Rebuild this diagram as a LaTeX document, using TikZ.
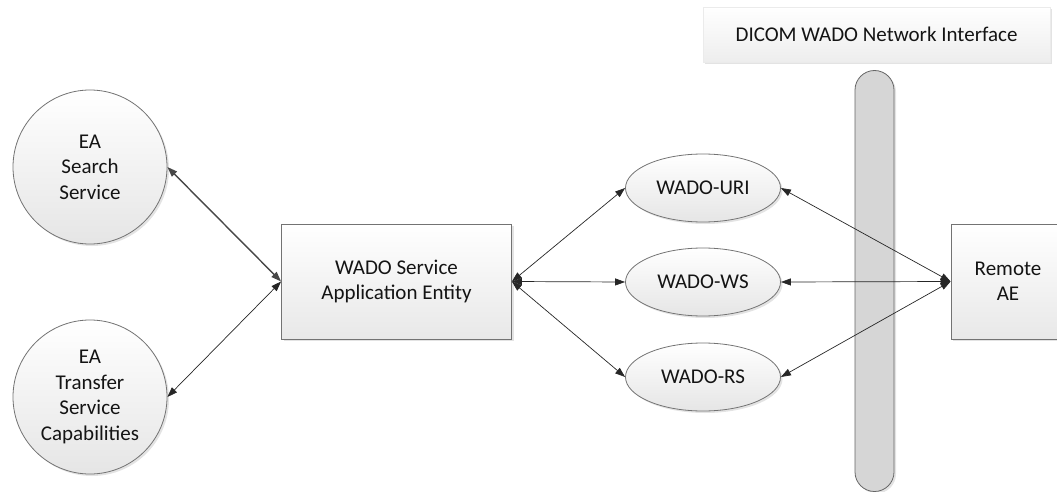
\documentclass[tikz,border=0pt]{standalone}
\usepackage{fontspec}
\setmainfont{Carlito}
\usetikzlibrary{arrows.meta,shapes.geometric,shadows}
\begin{document}
\begin{tikzpicture}[x=1pt,y=-1pt,
  every node/.style={font=\fontsize{21}{25.5}\selectfont, text=black!92},
  shadowed/.style={drop shadow={opacity=0.22,shadow xshift=2pt,shadow yshift=-2pt}},
  circ/.style={circle, draw=black!55, line width=0.8pt, minimum size=154pt, inner sep=0pt,
    top color=white, bottom color=black!10, align=center, shadowed},
  ell/.style={ellipse, draw=black!55, line width=0.8pt, minimum width=155pt, minimum height=68pt,
    inner sep=0pt, top color=white, bottom color=black!10, shadowed},
  boxn/.style={rectangle, draw=black!55, line width=0.8pt, minimum width=230pt, minimum height=115pt,
    top color=white, bottom color=black!9, align=center, shadowed},
  conn/.style={{Triangle[length=10pt,width=7pt]}-{Triangle[length=10pt,width=7pt]}, line width=0.7pt, black!85},
]
\useasboundingbox (0,0) rectangle (1057,492);
% network bar
\node[rectangle, rounded corners=19.5pt, draw=black!60, line width=0.8pt, fill=black!16,
  minimum width=39pt, minimum height=421pt, inner sep=0pt, shadowed] (bar) at (874.5,281) {};
% label box
\node[rectangle, draw=black!8, line width=0.6pt, top color=white, bottom color=black!7,
  minimum width=347pt, minimum height=55pt, inner sep=0pt, shadowed] (lbl) at (876.5,34.5) {DICOM WADO Network Interface};
% circles
\node[circ] (search) at (90,167) {EA\\Search\\Service};
\node[circ] (transfer) at (90,397) {EA\\Transfer\\Service\\Capabilities};
% WADO box
\node[boxn] (wado) at (396.5,281.5) {WADO Service\\Application Entity};
% ellipses
\node[ell] (uri) at (703,188) {WADO-URI};
\node[ell] (ws) at (703,282) {WADO-WS};
\node[ell] (rs) at (703,377) {WADO-RS};
% remote AE (cut by the right border)
\node[rectangle, draw=black!55, line width=0.8pt, top color=white, bottom color=black!9,
  minimum width=114pt, minimum height=115pt, inner sep=0pt, shadowed] (remote) at (1008,281.5) {};
\node[align=center] (remotetxt) at (1008,281.5) {Remote\\AE};
% connectors
\draw[conn, line width=1.4pt, black!72] (search.east) -- (wado.west);
\draw[conn] (transfer.east) -- (wado.west);
\draw[conn] (wado.east) -- (uri.west);
\draw[conn] (wado.east) -- (ws.west);
\draw[conn] (wado.east) -- (rs.west);
\draw[conn] (remote.west) -- (uri.east);
\draw[conn] (remote.west) -- (ws.east);
\draw[conn] (remote.west) -- (rs.east);
\end{tikzpicture}
\end{document}
